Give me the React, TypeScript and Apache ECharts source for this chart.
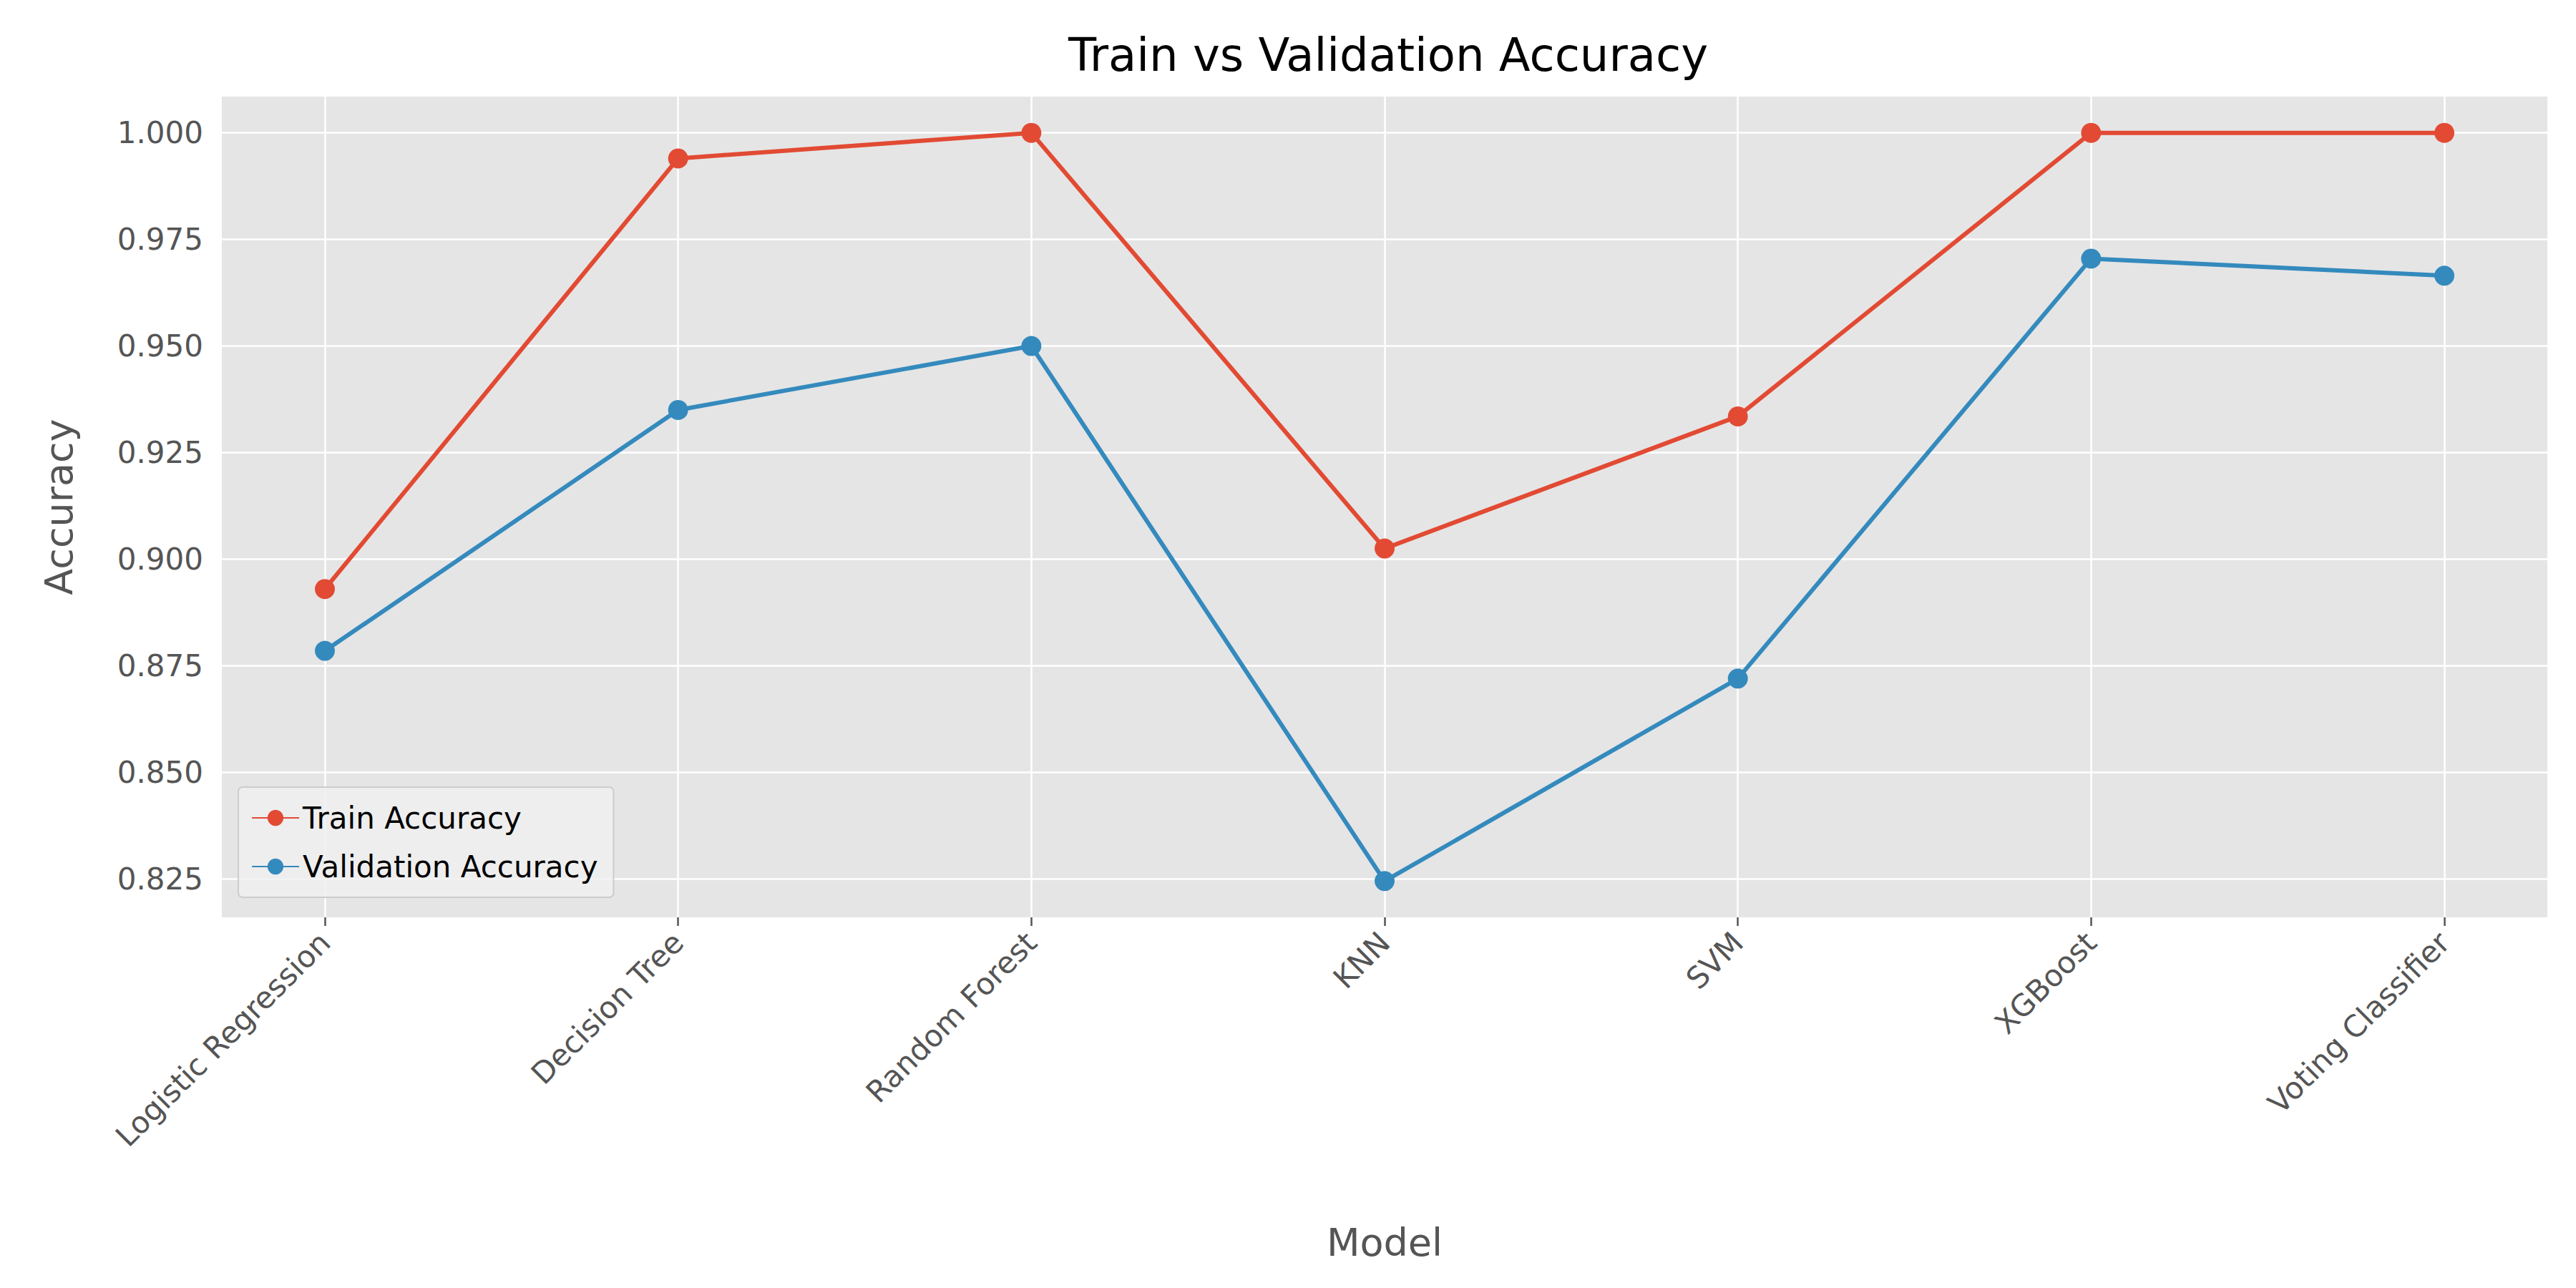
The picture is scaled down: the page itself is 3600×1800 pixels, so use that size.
import { useEffect, useRef } from 'react';
import * as echarts from 'echarts';

const models = ['Logistic Regression', 'Decision Tree', 'Random Forest', 'KNN', 'SVM', 'XGBoost', 'Voting Classifier'];
const trainAcc = [0.893, 0.994, 1.0, 0.9025, 0.9335, 1.0, 1.0];
const valAcc = [0.8785, 0.935, 0.95, 0.8245, 0.872, 0.9705, 0.9665];
const yTicks = [0.825, 0.85, 0.875, 0.9, 0.925, 0.95, 0.975, 1.0];

const Y_MIN = 0.816;
const Y_MAX = 1.0085;
const BOX = { left: 310, right: 3560, top: 135, bottom: 1282 };
const FONT = 'DejaVu Sans';

export default function App() {
  const ref = useRef<HTMLDivElement>(null);

  useEffect(() => {
    if (!ref.current) return;
    const chart = echarts.init(ref.current, null, { renderer: 'svg' });

    const dot = (color: string) => ({
      symbol: 'circle',
      symbolSize: 28,
      itemStyle: { color },
      lineStyle: { color, width: 6 }
    });

    chart.setOption({
      animation: false,
      backgroundColor: '#ffffff',
      textStyle: { fontFamily: FONT },
      title: {
        text: 'Train vs Validation Accuracy',
        left: (BOX.left + BOX.right) / 2,
        textAlign: 'center',
        top: 40,
        textStyle: { fontSize: 64, fontWeight: 'normal', color: '#000', fontFamily: FONT }
      },
      legend: {
        orient: 'vertical',
        left: 333,
        top: 1100,
        padding: [22, 22, 22, 18],
        itemGap: 26,
        itemWidth: 66,
        itemHeight: 28,
        backgroundColor: 'rgba(240,240,240,0.85)',
        borderColor: '#cccccc',
        borderWidth: 2,
        borderRadius: 6,
        textStyle: { fontSize: 42, color: '#000', fontFamily: FONT },
        data: ['Train Accuracy', 'Validation Accuracy']
      },
      graphic: [
        {
          type: 'rect',
          z: -10,
          silent: true,
          shape: { x: BOX.left, y: BOX.top, width: BOX.right - BOX.left, height: BOX.bottom - BOX.top },
          style: { fill: '#E5E5E5' }
        },
        {
          type: 'text',
          x: 82,
          y: (BOX.top + BOX.bottom) / 2,
          rotation: Math.PI / 2,
          style: { text: 'Accuracy', fontSize: 54, fill: '#555', fontFamily: FONT, align: 'center', verticalAlign: 'middle' }
        },
        {
          type: 'text',
          x: (BOX.left + BOX.right) / 2,
          y: 1736,
          style: { text: 'Model', fontSize: 54, fill: '#555', fontFamily: FONT, align: 'center', verticalAlign: 'middle' }
        }
      ],
      grid: [
        { left: 454, right: 3600 - 3416, top: BOX.top, height: BOX.bottom - BOX.top },
        { left: BOX.left, right: 3600 - BOX.right, top: BOX.top, height: BOX.bottom - BOX.top }
      ],
      xAxis: [
        {
          type: 'category',
          gridIndex: 0,
          data: models,
          boundaryGap: false,
          axisLine: { show: false },
          axisTick: { show: true, length: 12, lineStyle: { color: '#555', width: 2.5 } },
          splitLine: { show: true, lineStyle: { color: '#ffffff', width: 2.5 } },
          axisLabel: { rotate: 45, fontSize: 42, color: '#555', margin: 28, fontFamily: FONT }
        },
        { type: 'value', gridIndex: 1, min: 0, max: 1, show: false }
      ],
      yAxis: [
        { type: 'value', gridIndex: 0, min: Y_MIN, max: Y_MAX, show: false, splitLine: { show: false } },
        { type: 'value', gridIndex: 1, min: Y_MIN, max: Y_MAX, show: false, splitLine: { show: false } }
      ],
      series: [
        {
          type: 'line',
          xAxisIndex: 1,
          yAxisIndex: 1,
          data: [[0.5, 0.9]],
          showSymbol: false,
          symbolSize: 0,
          lineStyle: { width: 0 },
          z: 0,
          markLine: {
            silent: true,
            symbol: 'none',
            precision: 3,
            z: 0,
            lineStyle: { color: '#ffffff', width: 2.5, type: 'solid' },
            label: {
              position: 'start',
              distance: 26,
              fontSize: 42,
              color: '#555',
              fontFamily: FONT,
              formatter: (p: any) => Number(p.value).toFixed(3)
            },
            data: yTicks.map((v) => ({ yAxis: v }))
          }
        },
        { name: 'Train Accuracy', type: 'line', data: trainAcc, z: 5, ...dot('#E24A33') },
        { name: 'Validation Accuracy', type: 'line', data: valAcc, z: 5, ...dot('#348ABD') }
      ]
    });

    return () => chart.dispose();
  }, []);

  return <div ref={ref} style={{ position: 'absolute', left: 0, top: 0, width: 3600, height: 1800 }} />;
}
